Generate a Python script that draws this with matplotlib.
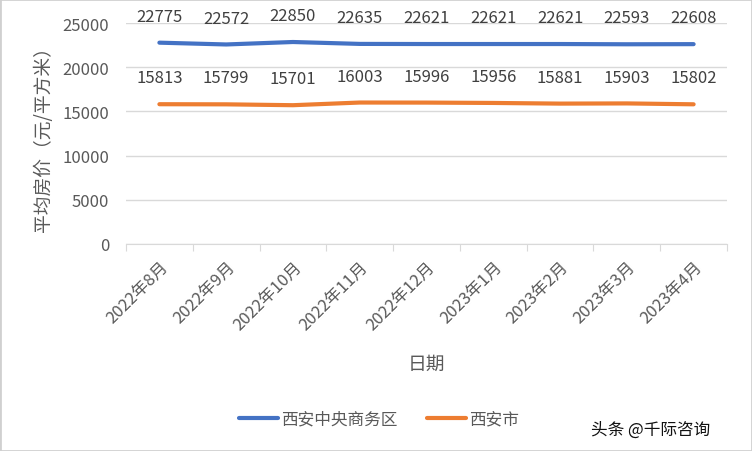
import matplotlib.pyplot as plt
import matplotlib.patches as patches

plt.rcParams['font.family'] = ['Noto Sans CJK SC', 'DejaVu Sans']

months = ['2022年8月', '2022年9月', '2022年10月', '2022年11月', '2022年12月',
          '2023年1月', '2023年2月', '2023年3月', '2023年4月']
cbd = [22775, 22572, 22850, 22635, 22621, 22621, 22621, 22593, 22608]
city = [15813, 15799, 15701, 16003, 15996, 15956, 15881, 15903, 15802]

grey = '#595959'

fig = plt.figure(figsize=(7.52, 4.52), dpi=100)
ax = fig.add_axes([126 / 752, 1 - 245 / 452, 601 / 752, 221 / 452])

x = list(range(len(months)))
ax.plot(x, cbd, color='#4472C4', lw=3, solid_capstyle='round', label='西安中央商务区')
ax.plot(x, city, color='#ED7D31', lw=3, solid_capstyle='round', label='西安市')

# value labels above each point
for i in x:
    ax.annotate(str(cbd[i]), (i, cbd[i]), xytext=(0, 19), textcoords='offset points',
                ha='center', va='center', fontsize=12, color='#404040')
    ax.annotate(str(city[i]), (i, city[i]), xytext=(0, 19), textcoords='offset points',
                ha='center', va='center', fontsize=12, color='#404040')

ax.set_xlim(-0.5, len(months) - 0.5)
ax.set_ylim(0, 25000)
ax.set_yticks(range(0, 25001, 5000))
ax.yaxis.grid(True, color='#d9d9d9', lw=1)
ax.set_axisbelow(True)
for s in ['top', 'right', 'left']:
    ax.spines[s].set_visible(False)
ax.spines['bottom'].set_color('#d9d9d9')
ax.tick_params(axis='y', length=0, labelsize=12, labelcolor=grey, pad=12)

ax.set_xticks([i - 0.5 for i in range(len(months) + 1)], minor=False)
ax.set_xticklabels([''] * (len(months) + 1))
ax.tick_params(axis='x', which='major', length=5, color='#d9d9d9')
ax.set_xticks(x, minor=True)
ax.set_xticklabels(months, minor=True, rotation=45, ha='right', rotation_mode='anchor')
ax.tick_params(axis='x', which='minor', length=0, labelsize=12, labelcolor=grey, pad=10)

ax.set_ylabel('平均房价（元/平方米）', fontsize=13.5, color=grey, labelpad=6)
ax.set_xlabel('日期', fontsize=13.5, color=grey, labelpad=14)

fig.legend(loc='center', bbox_to_anchor=(379 / 752, 1 - 420 / 452), ncol=2,
           frameon=False, fontsize=12, labelcolor=grey, handlelength=2.3,
           columnspacing=1.8, handletextpad=0.2)

fig.text(710 / 752, 1 - 430 / 452, '头条 @千际咨询', ha='right', va='center',
         fontsize=12, color='#111111')

fig.patches.append(patches.Rectangle((0, 0), 1, 1, transform=fig.transFigure,
                                     fill=False, edgecolor='#d0d0d0', lw=2))

fig.savefig('out.png', dpi=100)
